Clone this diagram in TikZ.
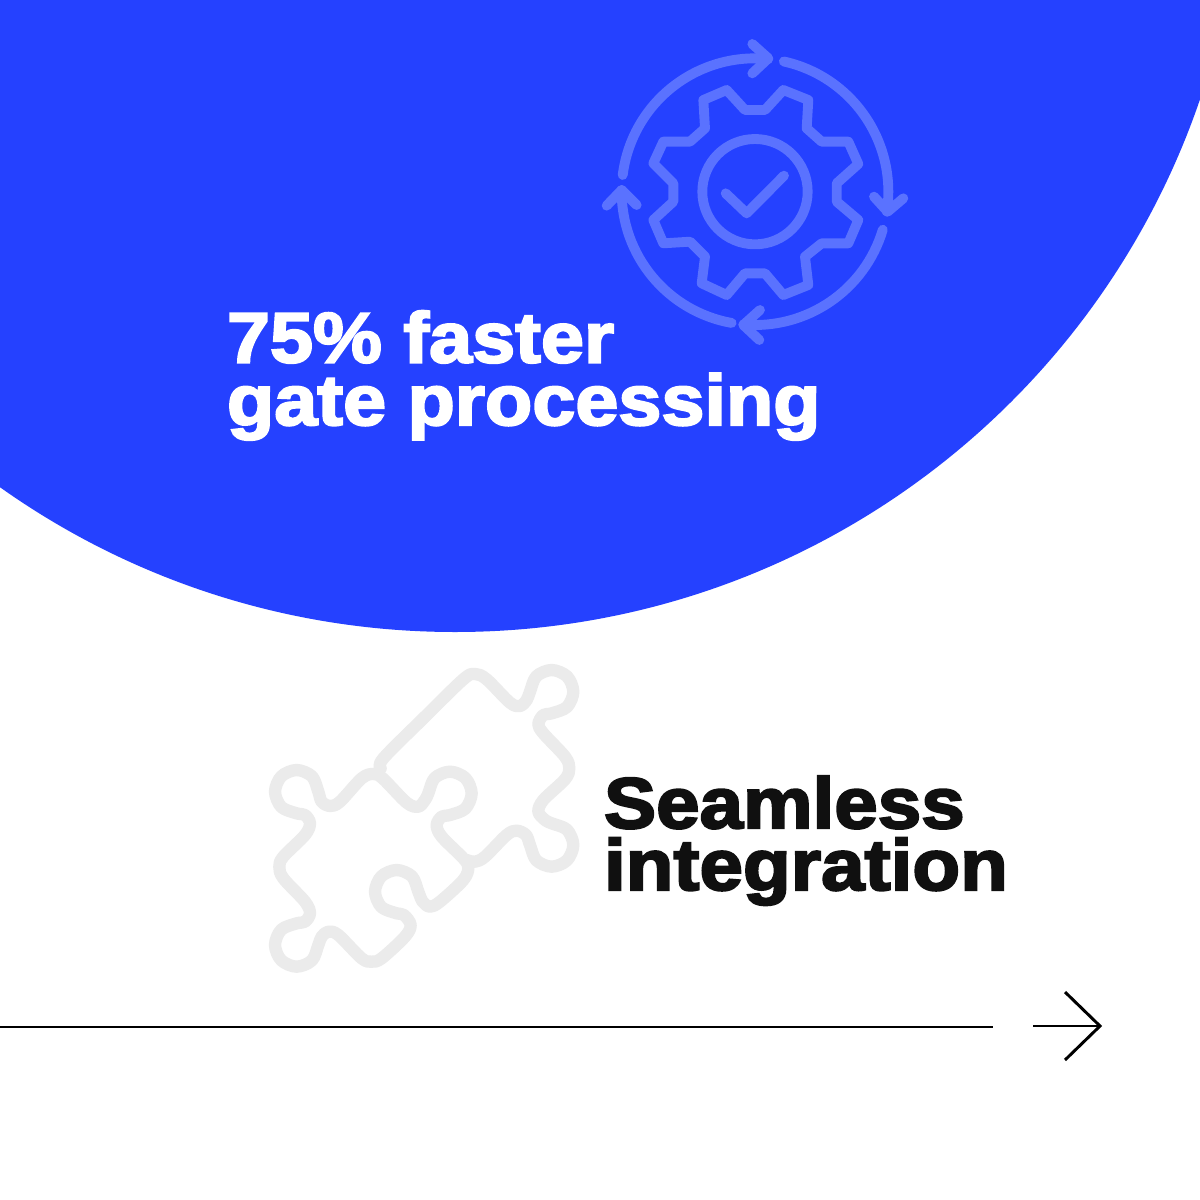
\documentclass[tikz,border=0pt]{standalone}
\usepackage{fontspec}
\setmainfont{Liberation Sans}[BoldFeatures={FakeBold=3,FakeStretch=1.085}]
\definecolor{blueA}{HTML}{2541FF}
\definecolor{iconA}{HTML}{5A72FF}
\definecolor{puzzleA}{HTML}{EBEBEB}
\definecolor{inkA}{HTML}{101010}
\begin{document}
\begin{tikzpicture}[x=0.05cm,y=-0.05cm,
  gearline/.style={draw=iconA,line width=14pt,line cap=round,line join=round},
  puzzleline/.style={draw=puzzleA,line width=17.5pt,line cap=round,line join=round},
  arrowline/.style={draw=black,line width=4.2pt,line join=miter},
  headline/.style={font=\bfseries\fontsize{101.5}{89}\selectfont,anchor=base west,align=left,inner sep=0pt,outer sep=0pt},
  subline/.style={headline,font=\bfseries\fontsize{102.5}{88}\selectfont}]
\useasboundingbox (0,0) rectangle (1200,1200);
\fill[white] (0,0) rectangle (1200,1200);
\begin{scope}
\clip (0,0) rectangle (1200,1200);
\fill[blueA] (455,-155) circle[radius=787];
\end{scope}
% gear icon (zoom coordinates)
\begin{scope}[shift={(590,30)},x=0.05cm/3,y=-0.05cm/3]
\draw[gearline] (495,485) circle[radius=158];
\draw[gearline] (407,490)--(470,550)--(582,437);
\draw[gearline] (465,240)--(525,240)--(580,180)--(655,210)--(650,295)--(695,335)--(775,335)--(805,402)--(740,460)--(740,515)--(805,570)--(775,640)--(695,640)--(645,680)--(655,765)--(580,795)--(525,730)--(465,730)--(410,795)--(335,760)--(345,680)--(300,635)--(220,640)--(190,570)--(250,515)--(250,460)--(190,400)--(220,335)--(300,335)--(345,295)--(340,210)--(410,180)--cycle;
\draw[gearline] (495,485)+(187.2:400) arc[start angle=187.2,end angle=275.7,radius=400];
\draw[gearline] (487,42)--(535,85)--(487,130);
\draw[gearline] (495,485)+(282.5:400) arc[start angle=282.5,end angle=368.6,radius=400];
\draw[gearline] (852,500)--(893,545)--(940,505);
\draw[gearline] (495,485)+(16.6:400) arc[start angle=16.6,end angle=95,radius=400];
\draw[gearline] (510,840)--(460,885)--(508,930);
\draw[gearline] (495,485)+(100.1:400) arc[start angle=100.1,end angle=180.7,radius=400];
\draw[gearline] (50,527)--(95,480)--(140,525);
\end{scope}
% puzzle icon (zoom coordinates)
\begin{scope}[shift={(250,650)},x=0.05cm/3,y=-0.05cm/3]
\draw[puzzleline] plot[smooth,tension=0.55] coordinates {(392,355)(400,325)(520,205)(640,88)(675,72)(710,88)(780,158)(810,168)(830,150)(840,125)(859,79)(905,60)(951,79)(970,125)(951,171)(905,190)(880,195)(865,222)(880,250)(945,320)(958,355)(945,388)(880,450)(865,485)(885,510)(905,520)(951,539)(970,585)(951,631)(905,650)(859,631)(840,585)(828,555)(800,542)(770,555)(705,620)(675,635)(650,630)};
\draw[puzzleline] plot[smooth cycle,tension=0.55] coordinates {(370,372)(398,385)(470,458)(505,470)(525,450)(535,430)(554,384)(600,365)(646,384)(665,430)(646,476)(600,495)(575,500)(560,525)(575,560)(640,625)(655,652)(640,690)(570,755)(540,770)(518,755)(505,725)(486,679)(440,660)(394,679)(375,725)(394,771)(440,790)(462,795)(482,825)(465,860)(395,925)(365,935)(335,925)(265,855)(235,845)(215,860)(205,885)(186,931)(140,950)(94,931)(75,885)(94,839)(140,820)(165,815)(180,790)(165,755)(100,685)(88,650)(100,620)(165,555)(180,520)(165,495)(140,490)(94,471)(75,425)(94,379)(140,360)(186,379)(205,425)(215,455)(240,468)(270,455)(335,385)};
\end{scope}
% text
\node[headline,text=white] (t1) at (227,425) {75\% faster\\gate processing};
\node[subline,text=inkA] (t3) at (604,890) {Seamless\\integration};
% arrow
\coordinate (lineA) at (0,1027);
\coordinate (lineB) at (993,1027);
\coordinate (shaftA) at (1033,1026);
\coordinate (tip) at (1100,1026);
\coordinate (armA) at (1065,992);
\coordinate (armB) at (1065,1060);
\draw[arrowline] (lineA)--(lineB);
\draw[arrowline] (shaftA)--(tip);
\draw[arrowline] (armA)--(tip)--(armB);
\end{tikzpicture}
\end{document}
